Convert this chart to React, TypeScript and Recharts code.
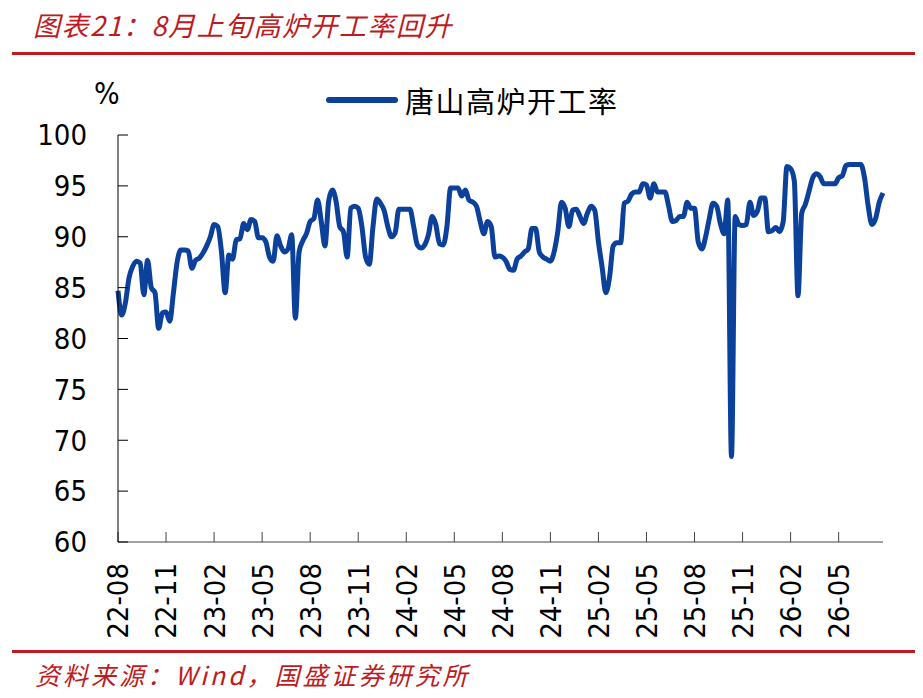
import React from "react";
import { LineChart, Line, XAxis, YAxis, Legend } from "recharts";

// 唐山高炉开工率，周度，22-08 起
const RATE = [
  84.7, 82.3, 83.5, 86.0, 87.1, 87.6, 87.4, 84.3, 87.7, 85.0,
  84.5, 81.0, 82.5, 82.6, 81.7, 84.5, 87.5, 88.7, 88.7, 88.6,
  86.9, 87.7, 87.9, 88.4, 89.1, 90.0, 91.2, 91.0, 88.5, 84.5,
  88.2, 87.8, 89.7, 89.8, 91.3, 90.7, 91.7, 91.5, 89.9, 89.9,
  89.5, 88.0, 87.6, 90.1, 89.1, 88.5, 88.8, 90.2, 82.0, 88.5,
  89.6, 90.3, 91.5, 91.8, 93.6, 91.5, 89.1, 93.5, 94.6, 93.5,
  91.0, 90.5, 88.0, 92.8, 93.0, 92.8, 91.0, 88.0, 87.3, 91.0,
  93.7, 93.3, 92.6, 91.0, 90.0, 90.4, 92.7, 92.7, 92.7, 92.7,
  91.0, 89.2, 88.9, 89.2, 90.2, 92.0, 91.2, 89.3, 89.2, 91.0,
  94.8, 94.8, 94.8, 94.0, 94.6, 93.6, 93.4, 93.0, 91.5, 90.3,
  91.5, 91.0, 88.0, 88.1, 88.0, 87.6, 86.8, 86.7, 87.8, 88.1,
  88.5, 88.8, 90.8, 90.8, 88.5, 88.0, 87.8, 87.6, 88.5, 90.5,
  93.4, 92.8, 91.0, 92.6, 92.7, 92.0, 91.3, 92.3, 93.0, 92.6,
  89.5, 87.0, 84.5, 86.0, 89.1, 89.4, 89.4, 93.3, 93.5, 94.2,
  94.4, 94.4, 95.2, 95.1, 93.8, 95.2, 94.4, 94.4, 94.4, 93.0,
  91.5, 91.6, 92.0, 92.0, 93.4, 92.8, 92.8, 89.5, 88.8, 90.0,
  91.8, 93.3, 93.0, 91.3, 90.3, 93.6, 68.4, 92.0, 91.2, 91.1,
  91.2, 93.4, 92.1, 92.5, 93.8, 93.8, 90.5, 90.6, 90.9, 90.5,
  91.5, 96.9, 96.7, 95.5, 84.2, 92.3, 93.2, 94.5, 95.8, 96.2,
  95.9, 95.2, 95.2, 95.2, 95.2, 95.8, 96.0, 97.0, 97.1, 97.1,
  97.1, 97.1, 95.8, 93.0, 91.2, 91.8, 93.4, 94.3,
];

// x 轴刻度：每 13 周一个
const TICK_WEEKS = [0, 13, 26, 39, 52, 65, 78, 91, 104, 117, 130, 143, 156, 169, 182, 195];
const TICK_LABELS = [
  "22-08", "22-11", "23-02", "23-05", "23-08", "23-11", "24-02", "24-05",
  "24-08", "24-11", "25-02", "25-05", "25-08", "25-11", "26-02", "26-05",
];
const Y_TICKS = [60, 65, 70, 75, 80, 85, 90, 95, 100];
const SERIES_NAME = "唐山高炉开工率";

const RED = "#BE1A21";
const BLUE = "#0B419B";
const TICK_FONT = "'DejaVu Sans Condensed', 'Liberation Sans', sans-serif";
const CJK = "'Noto Sans CJK SC', sans-serif";

const data = RATE.map((v, i) => ({ week: i, rate: v }));

const XTick = ({ x, y, payload }: any) => {
  const idx = TICK_WEEKS.indexOf(payload.value);
  return (
    <text
      x={x}
      y={y}
      transform={`rotate(-90, ${x}, ${y})`}
      textAnchor="end"
      dy="0.36em"
      fontSize={29}
      fontFamily={TICK_FONT}
      fill="#000"
    >
      {idx >= 0 ? TICK_LABELS[idx] : ""}
    </text>
  );
};

const LegendContent = () => (
  <div style={{ display: "flex", alignItems: "center" }}>
    <div style={{ width: 72, height: 6, borderRadius: 3, background: BLUE }} />
    <span style={{ marginLeft: 7, fontSize: 29, fontFamily: CJK, color: "#000", letterSpacing: 1.5 }}>
      {SERIES_NAME}
    </span>
  </div>
);

export default function App() {
  return (
    <div style={{ position: "relative", width: 923, height: 698, margin: -8, background: "#fff", overflow: "hidden" }}>
      <div
        style={{
          position: "absolute",
          left: 33,
          top: 5,
          fontSize: 27,
          fontStyle: "italic",
          fontFamily: CJK,
          color: RED,
          letterSpacing: 1.5,
          whiteSpace: "nowrap",
        }}
      >
        图表21：8月上旬高炉开工率回升
      </div>
      <div style={{ position: "absolute", left: 12, top: 52, width: 911, height: 3, background: RED }} />
      <div style={{ position: "absolute", left: 94, top: 76, fontSize: 30, fontFamily: TICK_FONT, color: "#000" }}>%</div>

      <div style={{ position: "absolute", left: 0, top: 0 }}>
        <LineChart width={923} height={698} data={data} margin={{ top: 135, right: 40, bottom: 56, left: 0 }}>
          <XAxis
            dataKey="week"
            type="number"
            domain={[0, RATE.length - 1]}
            ticks={TICK_WEEKS}
            interval={0}
            tick={<XTick />}
            tickSize={-10}
            tickMargin={31}
            height={100}
            axisLine={{ stroke: "#444" }}
            tickLine={{ stroke: "#444" }}
          />
          <YAxis
            domain={[60, 100]}
            ticks={Y_TICKS}
            interval={0}
            width={118}
            tickSize={-10}
            tickMargin={41}
            tick={{ fontSize: 29, fontFamily: TICK_FONT, fill: "#000" }}
            axisLine={{ stroke: "#000" }}
            tickLine={{ stroke: "#000" }}
          />
          <Legend
            verticalAlign="middle"
            align="center"
            content={<LegendContent />}
            wrapperStyle={{ top: 79, left: 326, width: "auto" }}
          />
          <Line
            type="monotone"
            dataKey="rate"
            name={SERIES_NAME}
            stroke={BLUE}
            strokeWidth={5}
            dot={false}
            isAnimationActive={false}
          />
        </LineChart>
      </div>

      <div style={{ position: "absolute", left: 12, top: 650, width: 903, height: 3, background: RED }} />
      <div
        style={{
          position: "absolute",
          left: 35,
          top: 656,
          fontSize: 25,
          fontStyle: "italic",
          fontFamily: CJK,
          color: RED,
          letterSpacing: 3,
          whiteSpace: "nowrap",
        }}
      >
        资料来源：Wind，国盛证券研究所
      </div>
    </div>
  );
}
